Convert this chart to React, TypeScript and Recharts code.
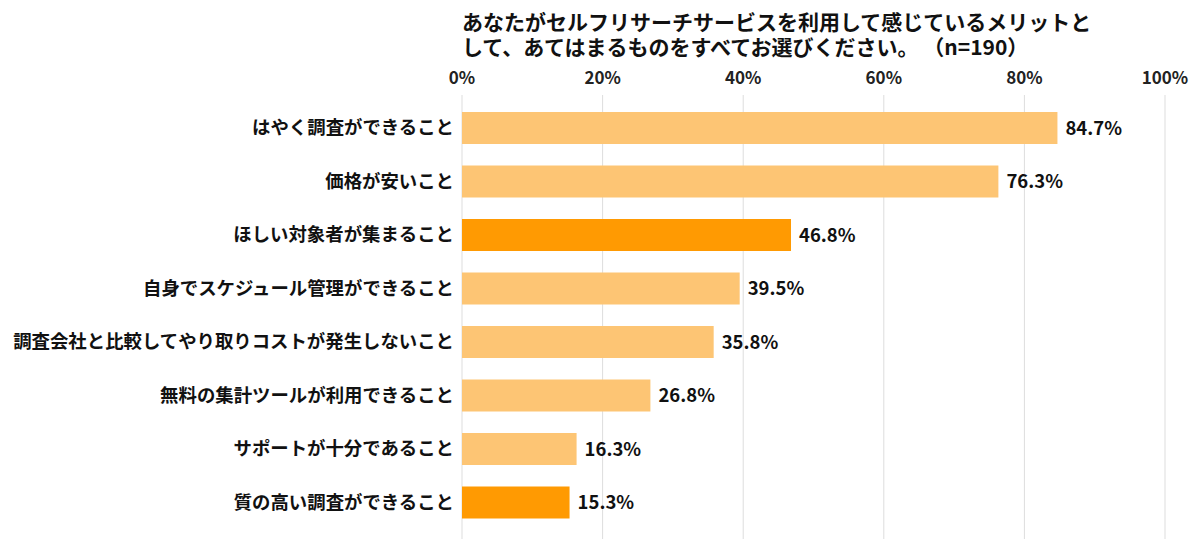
import { Bar, BarChart, CartesianGrid, Cell, LabelList, XAxis, YAxis } from "recharts";

const categories = [
  "はやく調査ができること",
  "価格が安いこと",
  "ほしい対象者が集まること",
  "自身でスケジュール管理ができること",
  "調査会社と比較してやり取りコストが発生しないこと",
  "無料の集計ツールが利用できること",
  "サポートが十分であること",
  "質の高い調査ができること",
];
const values = [84.7, 76.3, 46.8, 39.5, 35.8, 26.8, 16.3, 15.3];
const highlighted = [false, false, true, false, false, false, false, true];
const xTicks = [0, 20, 40, 60, 80, 100];
const titleLines = [
  "あなたがセルフリサーチサービスを利用して感じているメリットと",
  "して、あてはまるものをすべてお選びください。 （n=190）",
];

const FONT = '"Noto Sans CJK JP", "Noto Sans", sans-serif';
const LIGHT = "#FDC574";
const DARK = "#FF9A02";

const data = categories.map((name, i) => ({ name, value: values[i] }));

export default function App() {
  return (
    <div style={{ position: "absolute", left: 0, top: 0, width: 1200, height: 552, background: "#fff", fontFamily: FONT }}>
      <BarChart
        width={1200}
        height={552}
        data={data}
        layout="vertical"
        margin={{ top: 65, right: 35, left: 0, bottom: 13 }}
        barSize={32}
      >
        <text x={462} y={30} fontSize={21} fontWeight="bold" fill="#111" fontFamily={FONT}>
          {titleLines[0]}
        </text>
        <text x={462} y={55} fontSize={21} fontWeight="bold" fill="#111" fontFamily={FONT}>
          {titleLines[1]}
        </text>
        <CartesianGrid horizontal={false} stroke="#dddddd" />
        <XAxis
          type="number"
          orientation="top"
          domain={[0, 100]}
          ticks={xTicks}
          tickFormatter={(v: number) => `${v}%`}
          axisLine={false}
          tickLine={false}
          height={30}
          tick={{ fontSize: 17, fontWeight: "bold", fill: "#222", fontFamily: FONT, dy: -3 }}
        />
        <YAxis
          type="category"
          dataKey="name"
          width={462}
          axisLine={false}
          tickLine={false}
          padding={{ top: 6, bottom: 10 }}
          tick={{ fontSize: 18.4, fontWeight: "bold", fill: "#111", fontFamily: FONT }}
        />
        <Bar dataKey="value" isAnimationActive={false}>
          {data.map((_, i) => (
            <Cell key={i} fill={highlighted[i] ? DARK : LIGHT} />
          ))}
          <LabelList
            dataKey="value"
            position="right"
            offset={8}
            formatter={(v: number) => `${v.toFixed(1)}%`}
            style={{ fontSize: 18.5, fontWeight: "bold", fill: "#111", fontFamily: FONT }}
          />
        </Bar>
      </BarChart>
    </div>
  );
}
